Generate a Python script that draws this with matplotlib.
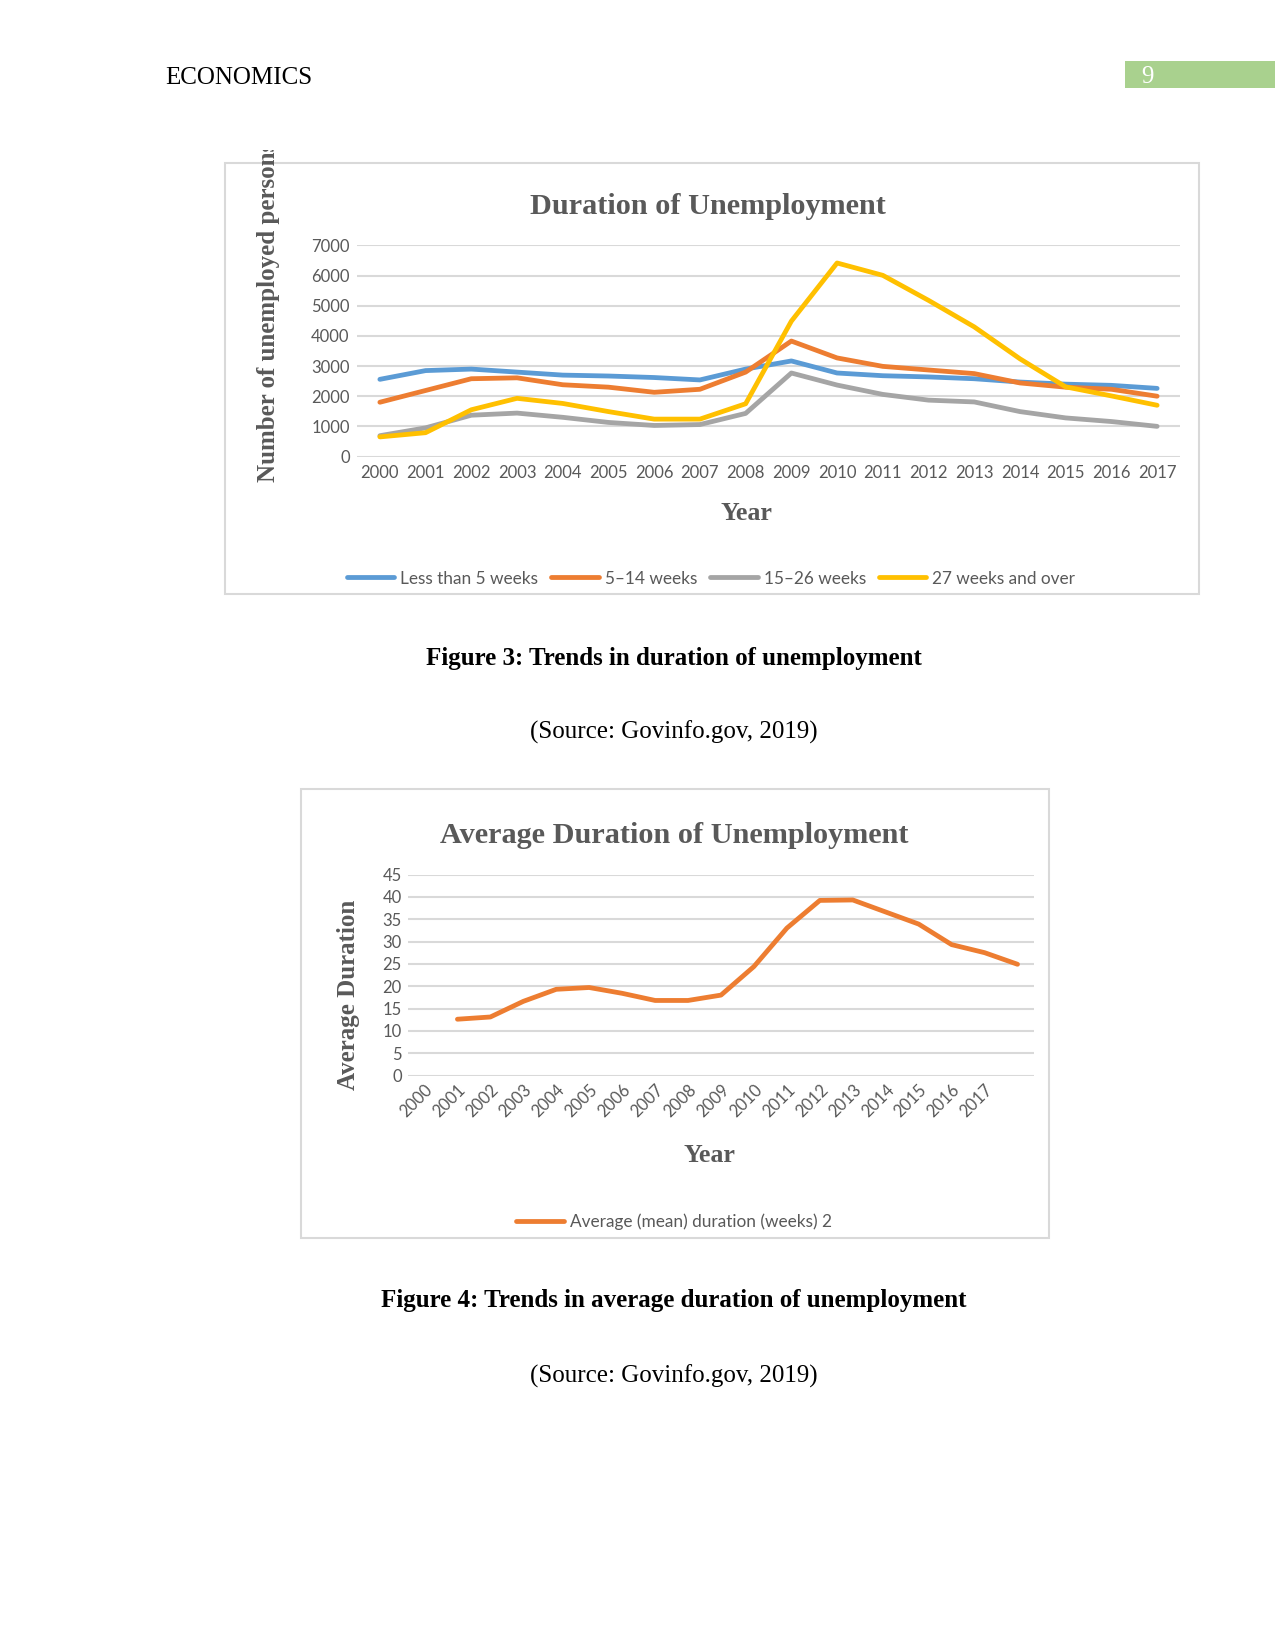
import matplotlib.pyplot as plt
import numpy as np
from matplotlib.patches import Rectangle
from matplotlib.transforms import Bbox

# ---- data ----
years = [str(y) for y in range(2000, 2018)]

less_5 = [2560, 2850, 2900, 2800, 2700, 2670, 2620, 2540, 2900, 3170,
          2770, 2680, 2640, 2580, 2470, 2400, 2360, 2260]
wk_5_14 = [1800, 2190, 2580, 2610, 2380, 2300, 2130, 2230, 2800, 3830,
           3270, 2990, 2870, 2750, 2440, 2300, 2230, 2000]
wk_15_26 = [690, 950, 1370, 1440, 1300, 1130, 1030, 1060, 1430, 2770,
            2370, 2060, 1870, 1810, 1490, 1280, 1160, 1000]
wk_27 = [650, 790, 1550, 1930, 1760, 1490, 1240, 1240, 1750, 4490,
         6420, 6010, 5180, 4300, 3240, 2310, 2010, 1700]

series_names = ["Less than 5 weeks", "5\u201314 weeks", "15\u201326 weeks", "27 weeks and over"]
series_colors = ["#5B9BD5", "#ED7D31", "#A5A5A5", "#FFC000"]

# second chart: data sits one category to the right, last category unlabeled
cats2 = years + [""]
avg_duration = [np.nan, 12.6, 13.1, 16.6, 19.3, 19.7, 18.4, 16.8, 16.8, 18.0,
                24.4, 33.0, 39.2, 39.3, 36.6, 33.9, 29.3, 27.5, 24.9]

W, H = 1275, 1650
fig = plt.figure(figsize=(8.5, 11), dpi=150)

def fx(px):
    return px / W

def fy(py):
    return 1 - py / H

def axes_px(l, t, r, b):
    return fig.add_axes([fx(l), fy(b), fx(r) - fx(l), (b - t) / H])

serif = "Liberation Serif"
sans = "Lato"
grey = "#595959"
gridc = "#D9D9D9"
tick_fs = 8.0

# header
fig.text(fx(165), fy(78), "ECONOMICS", family=serif, fontsize=12, va="center", ha="left")
fig.patches.append(Rectangle((fx(1125), fy(88)), fx(1275) - fx(1125), (88 - 61) / H,
                             transform=fig.transFigure, facecolor="#A9D18E", edgecolor="none"))
fig.text(fx(1147), fy(77), "9", family=serif, fontsize=12, color="white", va="center", ha="center")

# chart frames
for (l, t, r, b) in [(225, 163, 1199, 594), (301, 789, 1049, 1238)]:
    fig.patches.append(Rectangle((fx(l), fy(b)), fx(r) - fx(l), (b - t) / H,
                                 transform=fig.transFigure, facecolor="none",
                                 edgecolor=gridc, lw=1))

def style_axes(ax):
    for s in ax.spines.values():
        s.set_visible(False)
    ax.set_facecolor("none")
    ax.yaxis.grid(True, color=gridc, lw=1)
    ax.set_axisbelow(True)
    ax.tick_params(length=0, colors=grey, labelsize=tick_fs)
    for lab in ax.get_xticklabels() + ax.get_yticklabels():
        lab.set_family(sans)

# ---- chart 1 ----
ax1 = axes_px(357, 245.5, 1180, 456.5)
x1 = np.arange(len(years))
for vals, name, col in zip([less_5, wk_5_14, wk_15_26, wk_27], series_names, series_colors):
    ax1.plot(x1, vals, color=col, lw=2.3, label=name, solid_capstyle="round", clip_on=False)
ax1.set_xlim(-0.5, len(years) - 0.5)
ax1.set_ylim(0, 7000)
ax1.set_yticks(range(0, 7001, 1000))
ax1.set_xticks(x1)
ax1.set_xticklabels(years)
style_axes(ax1)
ax1.tick_params(axis="x", pad=4)
ax1.tick_params(axis="y", pad=3.5)

fig.text(fx(708), fy(206), "Duration of Unemployment", family=serif, weight="bold",
         fontsize=14.5, color=grey, ha="center", va="center")
fig.text(fx(746), fy(513), "Year", family=serif, weight="bold", fontsize=12.5,
         color=grey, ha="center", va="center")
yl = fig.text(fx(268), fy(482), "Number of unemployed persons", family=serif, weight="bold",
              fontsize=12, color=grey, rotation=90, ha="center", va="bottom")
yl.set_clip_box(Bbox.from_extents(0, 0, W, H - 150))
yl.set_clip_on(True)

fig.legend(*ax1.get_legend_handles_labels(), loc="center", ncol=4,
           bbox_to_anchor=(fx(711), fy(578.5)), frameon=False,
           prop={"family": sans, "size": 8.3}, labelcolor=grey,
           handlelength=2.75, handletextpad=0.35, columnspacing=0.75)

# ---- chart 2 ----
ax2 = axes_px(408, 874.5, 1034, 1075.5)
x2 = np.arange(len(cats2))
ax2.plot(x2, avg_duration, color="#ED7D31", lw=2.3, solid_capstyle="round",
         label="Average (mean) duration (weeks) 2", clip_on=False)
ax2.set_xlim(-0.5, len(cats2) - 0.5)
ax2.set_ylim(0, 45)
ax2.set_yticks(range(0, 46, 5))
ax2.set_xticks(x2)
ax2.set_xticklabels(cats2, rotation=45, ha="right", va="top", rotation_mode="anchor")
style_axes(ax2)
ax2.tick_params(axis="x", pad=3)
ax2.tick_params(axis="y", pad=3)

fig.text(fx(674), fy(835), "Average Duration of Unemployment", family=serif, weight="bold",
         fontsize=14.5, color=grey, ha="center", va="center")
fig.text(fx(709), fy(1155), "Year", family=serif, weight="bold", fontsize=12.5,
         color=grey, ha="center", va="center")
fig.text(fx(349), fy(995), "Average Duration", family=serif, weight="bold", fontsize=12,
         color=grey, rotation=90, ha="center", va="center")

fig.legend(*ax2.get_legend_handles_labels(), loc="center",
           bbox_to_anchor=(fx(674), fy(1221.5)), frameon=False,
           prop={"family": sans, "size": 8.3}, labelcolor=grey,
           handlelength=2.75, handletextpad=0.35)

# captions
for y, txt, bold in [(658, "Figure 3: Trends in duration of unemployment", True),
                     (732, "(Source: Govinfo.gov, 2019)", False),
                     (1301, "Figure 4: Trends in average duration of unemployment", True),
                     (1376, "(Source: Govinfo.gov, 2019)", False)]:
    fig.text(fx(674), fy(y), txt, family=serif, weight="bold" if bold else "normal",
             fontsize=12, ha="center", va="center")

fig.savefig("out.png", dpi=150)
